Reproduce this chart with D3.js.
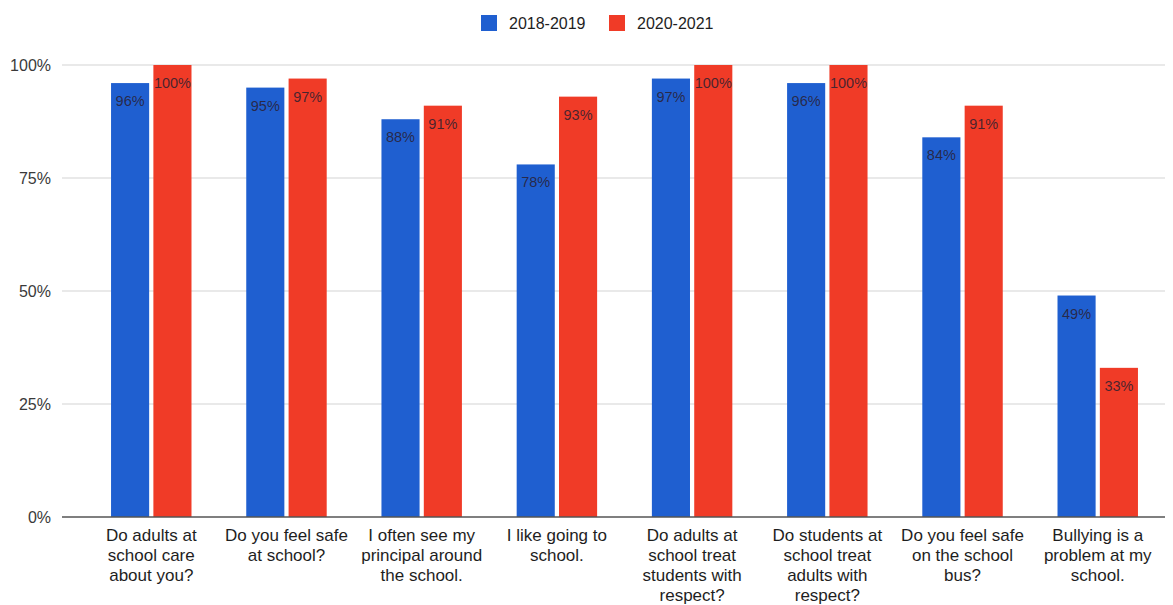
<!DOCTYPE html>
<meta charset="utf-8">
<script src="https://d3js.org/d3.v7.min.js"></script>
<style>
  body { margin: 0; background: #fff; }
  text { font-family: "Liberation Sans", Arial, sans-serif; }
</style>
<div id="chart"></div>
<script>

// categories and values
var questions = [
  ["Do adults at", "school care", "about you?"],
  ["Do you feel safe", "at school?"],
  ["I often see my", "principal around", "the school."],
  ["I like going to", "school."],
  ["Do adults at", "school treat", "students with", "respect?"],
  ["Do students at", "school treat", "adults with", "respect?"],
  ["Do you feel safe", "on the school", "bus?"],
  ["Bullying is a", "problem at my", "school."]
];
var years1819 = [96, 95, 88, 78, 97, 96, 84, 49];
var years2021 = [100, 97, 91, 93, 100, 100, 91, 33];
var seriesNames = ["2018-2019", "2020-2021"];
var seriesColors = ["#1f5fd0", "#f03b27"];
var yTicks = [0, 25, 50, 75, 100];

var width = 1173, height = 605;
var margin = {top: 65, right: 8, bottom: 88, left: 62};

var svg = d3.select("#chart")
  .append("svg")
    .attr("width", width)
    .attr("height", height);

var y = d3.scaleLinear()
  .domain([0, 100])
  .range([height - margin.bottom, margin.top]);

var x = d3.scaleBand()
  .domain(d3.range(questions.length))
  .range([margin.left + 22, width - margin.right])
  .paddingInner(0.405)
  .paddingOuter(0.2);

var x1 = d3.scaleBand()
  .domain([0, 1])
  .range([0, x.bandwidth()])
  .paddingInner(0.1);

// gridlines
svg.append("g")
  .selectAll("line")
  .data(yTicks.slice(1))
  .enter()
  .append("line")
    .attr("x1", margin.left)
    .attr("x2", width - margin.right)
    .attr("y1", function(d) { return y(d); })
    .attr("y2", function(d) { return y(d); })
    .attr("stroke", "#e2e2e2")
    .attr("stroke-width", 1.5);

// y axis labels
var yAxis = d3.axisLeft(y)
  .tickValues(yTicks)
  .tickFormat(function(d) { return d + "%"; })
  .tickSize(0)
  .tickPadding(11);
svg.append("g")
  .attr("transform", "translate(" + margin.left + ",0)")
  .call(yAxis)
  .call(function(g) { g.select(".domain").remove(); })
  .selectAll("text")
    .attr("font-size", 16)
    .attr("fill", "#3a3a3a");

// bars
var rows = questions.map(function(q, i) {
  return [years1819[i], years2021[i]];
});

var groups = svg.append("g")
  .selectAll("g")
  .data(rows)
  .enter()
  .append("g")
    .attr("transform", function(d, i) { return "translate(" + x(i) + ",0)"; });

groups.selectAll("rect")
  .data(function(d) { return d; })
  .enter()
  .append("rect")
    .attr("x", function(d, j) { return x1(j); })
    .attr("y", function(d) { return y(d); })
    .attr("width", x1.bandwidth())
    .attr("height", function(d) { return y(0) - y(d); })
    .attr("fill", function(d, j) { return seriesColors[j]; });

groups.selectAll("text")
  .data(function(d) { return d; })
  .enter()
  .append("text")
    .attr("x", function(d, j) { return x1(j) + x1.bandwidth() / 2; })
    .attr("y", function(d) { return y(d) + 23; })
    .attr("text-anchor", "middle")
    .attr("font-size", 14.5)
    .attr("fill", "#2a2030")
    .attr("fill-opacity", 0.85)
    .text(function(d) { return d + "%"; });

// baseline
svg.append("line")
  .attr("x1", margin.left)
  .attr("x2", width - margin.right)
  .attr("y1", y(0))
  .attr("y2", y(0))
  .attr("stroke", "#555")
  .attr("stroke-width", 1.5);

// category labels
var labels = svg.append("g")
  .selectAll("text")
  .data(questions)
  .enter()
  .append("text")
    .attr("text-anchor", "middle")
    .attr("font-size", 17)
    .attr("fill", "#1e1e1e")
    .attr("transform", function(d, i) {
      return "translate(" + (x(i) + x.bandwidth() / 2) + "," + (y(0) + 24) + ")";
    });

labels.selectAll("tspan")
  .data(function(d) { return d; })
  .enter()
  .append("tspan")
    .attr("x", 0)
    .attr("y", function(d, k) { return k * 20; })
    .text(function(d) { return d; });

// legend
var legend = svg.append("g")
  .attr("transform", "translate(481,15)");

var legendX = [0, 128];
var items = legend.selectAll("g")
  .data(seriesNames)
  .enter()
  .append("g")
    .attr("transform", function(d, i) { return "translate(" + legendX[i] + ",0)"; });

items.append("rect")
  .attr("width", 16)
  .attr("height", 16)
  .attr("fill", function(d, i) { return seriesColors[i]; });

items.append("text")
  .attr("x", 28)
  .attr("y", 14)
  .attr("font-size", 16)
  .attr("fill", "#1e1e1e")
  .text(function(d) { return d; });

</script>
